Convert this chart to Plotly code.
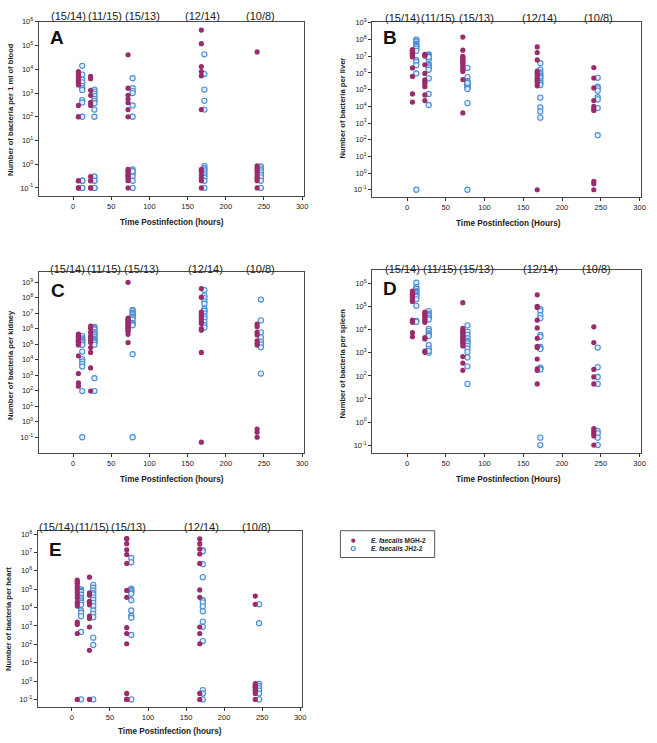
import plotly.graph_objects as go

W, H = 657, 743

# ---------------- data ----------------
MGH_TIMES = [7, 23, 72, 168, 241]
JH_TIMES = [12, 28, 78, 172, 246]
GROUP_LABELS = ["(15/14)", "(11/15)", "(15/13)", "(12/14)", "(10/8)"]
X_TICKS = [0, 50, 100, 150, 200, 250, 300]
LEGEND_NAMES = ["MGH-2", "JH2-2"]

blood_mgh = [
    [8000, 7000, 6000, 5000, 4200, 3300, 2600, 2200, 300, 100, 100, 0.2, 0.1, 0.1, 0.2],
    [5000, 4000, 1300, 800, 400, 300, 0.3, 0.2, 0.1, 0.1, 0.2],
    [41000, 1600, 800, 560, 390, 200, 100, 0.6, 0.5, 0.35, 0.26, 0.2, 0.1, 0.4, 0.3],
    [450000, 120000, 13000, 8000, 5300, 200, 0.6, 0.5, 0.35, 0.25, 0.2, 0.1],
    [54000, 0.85, 0.7, 0.6, 0.5, 0.4, 0.3, 0.2, 0.1, 0.25],
]
blood_jh = [
    [14000, 6000, 3600, 2800, 2000, 1600, 1350, 500, 400, 100, 0.2, 0.1, 0.1, 0.2],
    [1400, 1150, 920, 740, 560, 460, 370, 200, 100, 0.3, 0.2, 0.1, 0.1, 0.3, 0.2],
    [4200, 1600, 1200, 1000, 300, 100, 0.6, 0.5, 0.4, 0.3, 0.2, 0.1, 0.5],
    [43000, 6300, 1400, 470, 200, 0.85, 0.7, 0.6, 0.5, 0.4, 0.33, 0.27, 0.2, 0.1],
    [0.8, 0.65, 0.55, 0.45, 0.35, 0.28, 0.2, 0.1],
]

liver_mgh = [
    [2.5e7, 2.3e7, 2.1e7, 1.9e7, 1.7e7, 1.5e7, 1.3e7, 1.15e7, 1e7, 9e6, 2e6, 6.2e5, 5.5e4, 1.8e4, 2.2e7],
    [1.3e7, 1.2e7, 1.05e7, 3.1e6, 9.3e5, 3.9e5, 2.8e5, 2.2e5, 1.5e5, 4.8e4, 2.2e4],
    [1.4e8, 2.3e7, 1e7, 8.3e6, 6.8e6, 6e6, 5e6, 4.3e6, 3.6e6, 3e6, 2.2e6, 1.6e6, 1.2e6, 4e5, 4e3],
    [3.6e7, 1.65e7, 6e6, 1.3e6, 1e6, 7.8e5, 5.4e5, 4.2e5, 3.4e5, 2.5e5, 1.7e5, 0.1],
    [2.1e6, 4.9e5, 1.26e5, 2.2e4, 9.8e3, 7e3, 5.6e3, 0.32, 0.23, 0.1],
]
liver_jh = [
    [1e8, 9e7, 7.5e7, 5.6e7, 4.8e7, 4.1e7, 3.5e7, 2.9e7, 2.1e7, 5.8e6, 4.6e6, 2.9e6, 9.3e5, 0.1],
    [1.3e7, 1.15e7, 1e7, 8.3e6, 7.4e6, 6.6e6, 3.5e6, 2.9e6, 2.5e6, 2.1e6, 1.55e6, 4.7e5, 5.5e4, 1.2e4, 9e6],
    [2e6, 5.6e5, 3.2e5, 2.7e5, 2.3e5, 2e5, 1.7e5, 1.5e5, 1.3e5, 1.1e5, 1.55e4, 0.1, 2.5e5],
    [3.8e6, 1.6e6, 1.07e6, 8.5e5, 6.8e5, 5.5e5, 4.7e5, 3.2e5, 2.5e5, 1.9e5, 3.3e4, 8.5e3, 4.9e3, 2.1e3],
    [5.1e5, 1.5e5, 1.2e5, 8.7e4, 3.5e4, 2.6e4, 7.8e3, 186],
]

kidney_mgh = [
    [4.6e5, 4e5, 3.4e5, 3e5, 2.4e5, 2e5, 1.7e5, 1.5e5, 1.3e5, 1e5, 9.1e4, 1.8e4, 1.3e3, 320, 200],
    [1.5e6, 1.05e6, 5.9e5, 3.4e5, 2.4e5, 1.7e5, 1.3e5, 6.2e4, 3e4, 3e3, 96],
    [1e9, 5e6, 4e6, 3.5e6, 3e6, 2.4e6, 2e6, 1.7e6, 1.5e6, 1.2e6, 1e6, 8.2e5, 7e5, 4.4e5, 1.3e5],
    [4e8, 1.1e8, 1.2e7, 8.7e6, 6.5e6, 4.6e6, 3.1e6, 2.2e6, 1.05e6, 8.2e5, 3e4, 0.048],
    [2e6, 1.35e6, 5.9e5, 4e5, 1.7e5, 1.15e5, 9e4, 0.34, 0.21, 0.1],
]
kidney_jh = [
    [3.4e5, 2.4e5, 2e5, 1.7e5, 1.4e5, 1.15e5, 9e4, 3.4e4, 1.1e4, 7.8e3, 5.5e3, 3.7e3, 96, 0.1],
    [1.35e6, 1.1e6, 9.1e5, 6.1e5, 5e5, 4.2e5, 3.1e5, 2.3e5, 2e5, 1.7e5, 1.5e5, 1.3e5, 9.5e4, 650, 96],
    [1.7e7, 1.4e7, 1.05e7, 9e6, 7.4e6, 6e6, 5.2e6, 4e6, 2.4e6, 2e6, 1.7e6, 2.3e4, 0.1],
    [3.2e8, 1.4e8, 9.6e7, 5.9e7, 4.2e7, 2e7, 1.5e7, 1.4e7, 9.6e6, 6.5e6, 4.6e6, 2.8e6, 1.7e6, 1.2e6],
    [7.8e7, 3.5e6, 5.9e5, 2.8e5, 1.5e5, 1e5, 6.4e4, 1.3e3],
]

spleen_mgh = [
    [4.8e5, 4e5, 3.5e5, 3.2e5, 3e5, 2.7e5, 2.5e5, 2.1e5, 1.9e5, 1.7e5, 2.6e4, 2.3e4, 2.1e4, 7.5e3, 5e3],
    [5.9e4, 5e4, 4.6e4, 3.7e4, 3e4, 2.6e4, 2.1e4, 4.6e3, 4e3, 1.2e3, 1.05e3],
    [1.5e5, 1.15e4, 9e3, 8e3, 7e3, 5.6e3, 5e3, 4.3e3, 3.4e3, 3e3, 2.6e3, 2e3, 690, 360, 175],
    [3.3e5, 1.05e5, 9.3e4, 2.6e4, 1.2e4, 4.3e3, 1.9e3, 1.7e3, 540, 200, 175, 45],
    [1.35e4, 2.8e3, 190, 90, 45, 0.52, 0.41, 0.32, 0.25, 0.1],
]
spleen_jh = [
    [1.1e6, 7.2e5, 6e5, 5.9e5, 4.8e5, 4.5e5, 4e5, 3.4e5, 3e5, 2.7e5, 2.1e5, 1.1e5, 2.4e4, 2.2e4],
    [6.5e4, 5e4, 4.3e4, 4e4, 3.3e4, 2.8e4, 1.1e4, 9e3, 7.1e3, 6e3, 5.4e3, 2.2e3, 1.5e3, 1e3, 1.2e3],
    [1.55e4, 8.1e3, 6e3, 4.3e3, 3.4e3, 3e3, 2.6e3, 2e3, 1.55e3, 1.1e3, 630, 260, 45],
    [7.9e4, 6.7e4, 4.3e4, 3.2e4, 6e3, 5e3, 1.8e3, 1.6e3, 1.45e3, 230, 210, 190, 0.21, 0.1],
    [1.7e3, 240, 90, 45, 0.41, 0.32, 0.21, 0.1],
]

heart_mgh = [
    [3.1e5, 2.4e5, 2e5, 1.45e5, 1e5, 7e4, 5e4, 3.4e4, 2e4, 1.6e4, 1.2e4, 1.6e3, 1.2e3, 380, 0.1],
    [4.5e5, 6.3e4, 4.7e4, 2.2e4, 1.8e4, 1.4e4, 3.4e3, 2.5e3, 870, 47, 0.1],
    [5.6e7, 3e7, 1.4e7, 7.6e6, 2.5e6, 8.5e4, 3.6e4, 800, 380, 107, 0.21, 0.1, 0.1, 5.6e7, 0.1],
    [5.4e7, 3e7, 1.55e7, 8.2e6, 2.5e6, 9.1e4, 3.6e4, 870, 380, 107, 0.21, 0.1],
    [4.2e4, 1.5e4, 0.73, 0.59, 0.5, 0.45, 0.35, 0.3, 0.21, 0.1],
]
heart_jh = [
    [9.6e4, 8e4, 7e4, 5e4, 3.4e4, 2.8e4, 2.2e4, 1.8e4, 1.4e4, 6.9e3, 5.2e3, 3.4e3, 470, 0.1],
    [1.7e5, 1.2e5, 8.5e4, 6e4, 5.1e4, 3.6e4, 2.6e4, 1.8e4, 1.2e4, 6.9e3, 4.5e3, 3e3, 230, 92, 0.1],
    [5e6, 2.9e6, 1.07e5, 9e4, 7.8e4, 6.5e4, 5.6e4, 2.5e4, 6.9e3, 3.6e3, 2.8e3, 320, 0.1],
    [1.3e7, 1.15e7, 2.3e6, 4.5e5, 2.5e4, 1.9e4, 1.15e4, 6.3e3, 1.7e3, 890, 150, 0.32, 0.21, 0.1],
    [1.5e4, 1.4e3, 0.69, 0.52, 0.4, 0.3, 0.21, 0.1],
]

# ---------------- layout specs ----------------
FONT = "Liberation Sans, Arial, Helvetica, sans-serif"
MGH_COLOR = "#982c6c"
JH_LINE = "#4a8fd6"
JH_FILL = "#e4eef9"

panels = [
    dict(letter="A", mgh=blood_mgh, jh=blood_jh,
         ytitle="Number of bacteria per 1 ml of blood", xtitle="Time Postinfection (hours)",
         box=(39, 306, 16, 192), yr=(-1.36, 6.0), ymax=6,
         ytitle_pos=(10, 104), xtitle_pos=(173, 218), glabel_y=10, letter_pos=(48, 32),
         glabel_x=[-6, 42, 91, 169, 246]),
    dict(letter="B", mgh=liver_mgh, jh=liver_jh,
         ytitle="Number of bacteria per liver", xtitle="Time Postinfection (Hours)",
         box=(375, 646, 16, 193), yr=(-1.46, 9.06), ymax=9,
         ytitle_pos=(345, 103), xtitle_pos=(512, 219), glabel_y=12, letter_pos=(384, 32),
         glabel_x=[-6, 40, 90, 171, 247]),
    dict(letter="C", mgh=kidney_mgh, jh=kidney_jh,
         ytitle="Number of bacteria per kidney", xtitle="Time Postinfection (hours)",
         box=(39, 306, 268, 451), yr=(-2.04, 9.68), ymax=9,
         ytitle_pos=(10, 362), xtitle_pos=(173, 477), glabel_y=265, letter_pos=(49, 287),
         glabel_x=[-7, 41, 90, 174, 245]),
    dict(letter="D", mgh=spleen_mgh, jh=spleen_jh,
         ytitle="Number of bacteria per spleen", xtitle="Time Postinfection (Hours)",
         box=(375, 646, 266, 451), yr=(-1.36, 6.6), ymax=6,
         ytitle_pos=(345, 360), xtitle_pos=(512, 477), glabel_y=265, letter_pos=(384, 285),
         glabel_x=[-6, 42, 90, 172, 245]),
    dict(letter="E", mgh=heart_mgh, jh=heart_jh,
         ytitle="Number of bacteria per heart", xtitle="Time Postinfection (hours)",
         box=(38, 304, 529, 707), yr=(-1.43, 8.18), ymax=8,
         ytitle_pos=(8, 618), xtitle_pos=(171, 731), glabel_y=525, letter_pos=(47, 548),
         glabel_x=[-20, 27, 74, 170, 242]),
]


def px(x):
    return x / W


def py(y):
    return 1 - y / H


fig = go.Figure()
annotations = []
shapes = []
layout_axes = {}

MGH_MARKER = dict(size=5.2, color=MGH_COLOR, line=dict(width=0))
JH_MARKER = dict(size=5.2, color=JH_FILL, line=dict(color=JH_LINE, width=1.1))

for i, p in enumerate(panels, start=1):
    xs = "" if i == 1 else str(i)
    xa, ya = "x" + xs, "y" + xs
    mx, my, jx, jy = [], [], [], []
    for t, vals in zip(MGH_TIMES, p["mgh"]):
        mx += [t] * len(vals)
        my += vals
    for t, vals in zip(JH_TIMES, p["jh"]):
        jx += [t] * len(vals)
        jy += vals
    fig.add_trace(go.Scatter(
        x=jx, y=jy, mode="markers", xaxis=xa, yaxis=ya,
        name="E. faecalis JH2-2", showlegend=False, marker=JH_MARKER))
    fig.add_trace(go.Scatter(
        x=mx, y=my, mode="markers", xaxis=xa, yaxis=ya,
        name="E. faecalis MGH-2", showlegend=False, marker=MGH_MARKER))

    x0, x1, y0, y1 = p["box"]
    exps = list(range(-1, p["ymax"] + 1))
    layout_axes["xaxis" + xs] = dict(
        domain=[px(x0), px(x1)], range=[-45, 302], anchor=ya,
        tickvals=X_TICKS, ticks="outside", ticklen=3, tickcolor="#333",
        tickfont=dict(size=7.5, color="#222", family=FONT),
        showline=True, mirror=True, linecolor="#4a4a4a", linewidth=1,
        showgrid=False, zeroline=False,
    )
    layout_axes["yaxis" + xs] = dict(
        domain=[py(y1), py(y0)], type="log", range=list(p["yr"]), anchor=xa,
        tickvals=[10.0 ** e for e in exps],
        ticktext=["10<sup>%d</sup>" % e for e in exps],
        ticks="outside", ticklen=3, tickcolor="#333",
        tickfont=dict(size=7.5, color="#222", family=FONT),
        showline=True, mirror=True, linecolor="#4a4a4a", linewidth=1,
        showgrid=False, zeroline=False,
    )
    tx, ty = p["ytitle_pos"]
    annotations.append(dict(
        text="<b>%s</b>" % p["ytitle"], x=px(tx), y=py(ty), xref="paper", yref="paper",
        textangle=-90, showarrow=False, xanchor="center", yanchor="middle",
        font=dict(size=7.6, color="#222", family=FONT)))
    tx, ty = p["xtitle_pos"]
    annotations.append(dict(
        text="<b>%s</b>" % p["xtitle"], x=px(tx), y=py(ty), xref="paper", yref="paper",
        showarrow=False, xanchor="center", yanchor="middle",
        font=dict(size=8.2, color="#222", family=FONT)))
    for gx, lab in zip(p["glabel_x"], GROUP_LABELS):
        annotations.append(dict(
            text=lab, x=gx, y=py(p["glabel_y"]), xref=xa, yref="paper",
            showarrow=False, xanchor="center", yanchor="middle",
            font=dict(size=11, color="#222", family=FONT)))
    lx, ly = p["letter_pos"]
    annotations.append(dict(
        text="<b>%s</b>" % p["letter"], x=px(lx), y=py(ly), xref="paper", yref="paper",
        showarrow=False, xanchor="left", yanchor="middle",
        font=dict(size=19, color="#111", family=FONT)))

# ---- compact legend (box + sample markers + labels) ----
LEG_BOX = (343, 438, 529, 556)
LEG_ROWS = [539, 547]
shapes.append(dict(type="rect", xref="paper", yref="paper",
                   x0=px(LEG_BOX[0]), x1=px(LEG_BOX[1]), y0=py(LEG_BOX[3]), y1=py(LEG_BOX[2]),
                   line=dict(color="#555", width=1), fillcolor="white", layer="below"))
leg_markers = [MGH_MARKER, JH_MARKER]
for name, mk, ry in zip(LEGEND_NAMES, leg_markers, LEG_ROWS):
    fig.add_trace(go.Scatter(
        x=[px(356)], y=[py(ry)], mode="markers", xaxis="x6", yaxis="y6",
        showlegend=False, hoverinfo="skip", marker=dict(mk, size=4.2)))
    annotations.append(dict(
        text="<b><i>E. faecalis</i> %s</b>" % name, x=px(372), y=py(ry),
        xref="paper", yref="paper", showarrow=False, xanchor="left", yanchor="middle",
        font=dict(size=6.5, color="#222", family=FONT)))
layout_axes["xaxis6"] = dict(domain=[0, 1], range=[0, 1], visible=False, anchor="y6")
layout_axes["yaxis6"] = dict(domain=[0, 1], range=[0, 1], visible=False, anchor="x6")

fig.update_layout(
    width=W, height=H,
    margin=dict(l=0, r=0, t=0, b=0),
    paper_bgcolor="white", plot_bgcolor="rgba(0,0,0,0)",
    font=dict(family=FONT, color="#222"),
    annotations=annotations,
    shapes=shapes,
    showlegend=False,
    **layout_axes,
)

fig.write_html("out.html", config={"displayModeBar": False},
               post_script="document.body.style.margin='0px';")
